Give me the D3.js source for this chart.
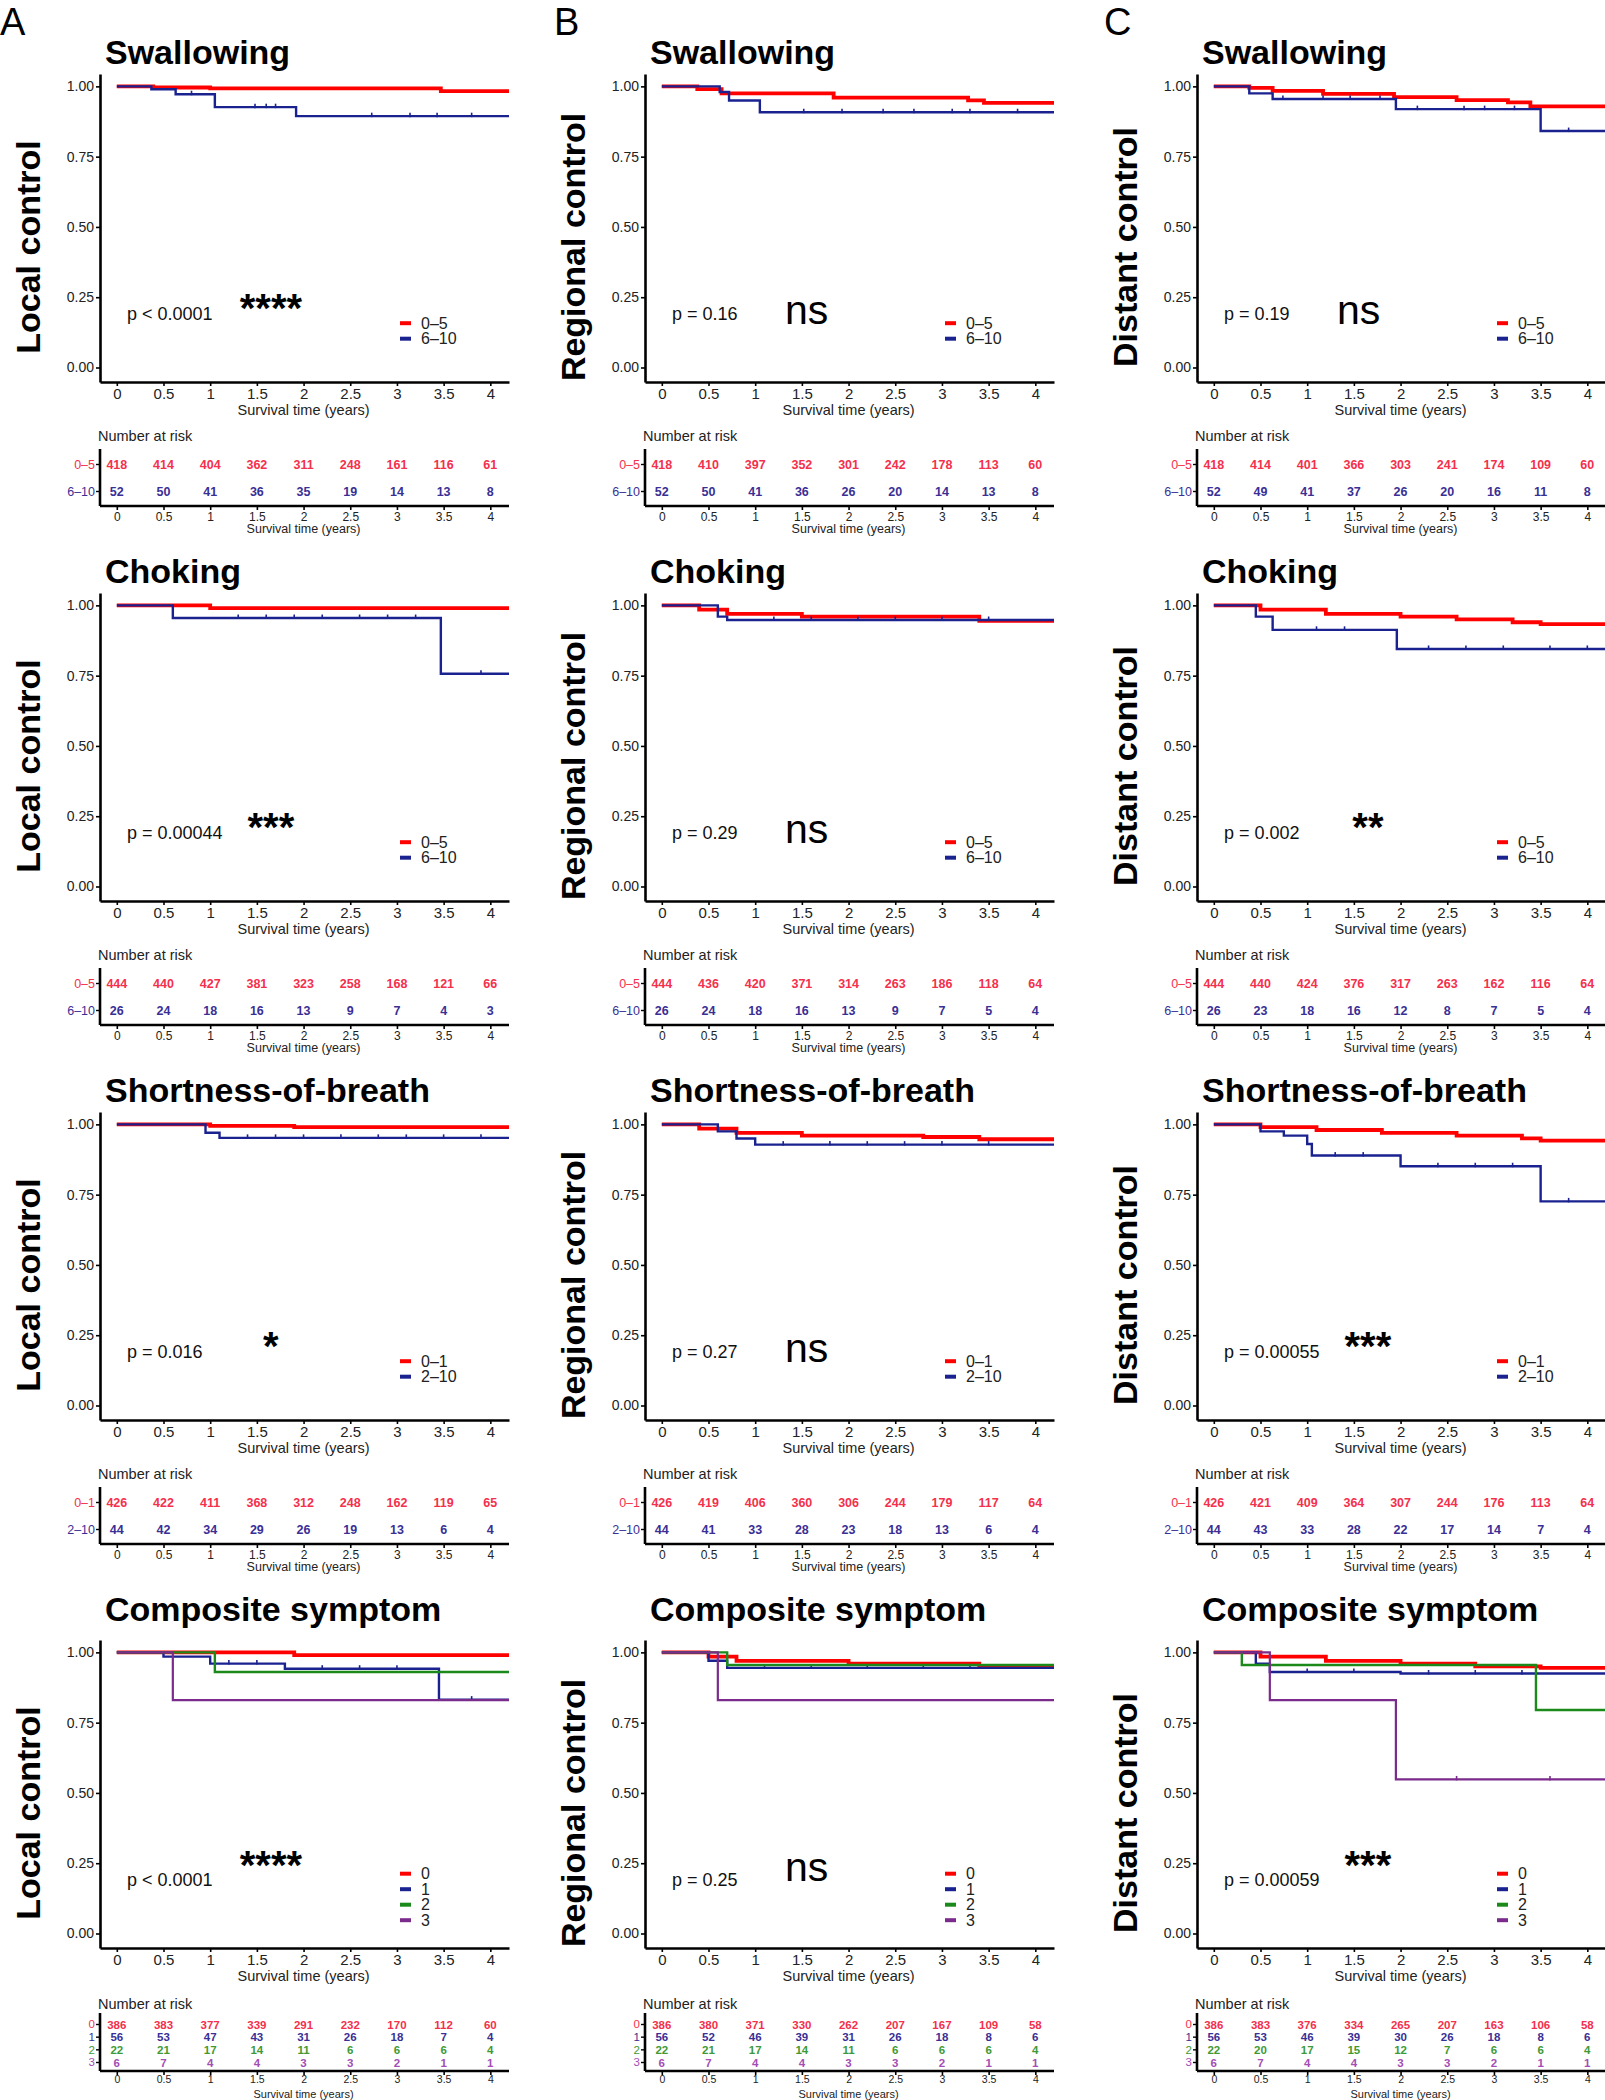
<!DOCTYPE html>
<html>
<head>
<meta charset="utf-8">
<script src="https://cdn.jsdelivr.net/npm/d3@7"></script>
<style>
  body { margin: 0; background: #fff; }
  text { font-family: 'Liberation Sans', Arial, sans-serif; }
</style>
</head>
<body>
<div id="chart"></div>
<script>
// panel labels and titles
const letters = ['A', 'B', 'C'];
const yTitles = ['Local control', 'Regional control', 'Distant control'];
const rowTitles = ['Swallowing', 'Choking', 'Shortness-of-breath', 'Composite symptom'];
const groupNames = [['0–5', '6–10'], ['0–5', '6–10'], ['0–1', '2–10'], ['0', '1', '2', '3']];
const xTicks = [0, 0.5, 1, 1.5, 2, 2.5, 3, 3.5, 4];
const yTicks = [0, 0.25, 0.5, 0.75, 1];

const pLabels = [
    ['p < 0.0001', 'p = 0.16', 'p = 0.19'],
    ['p = 0.00044', 'p = 0.29', 'p = 0.002'],
    ['p = 0.016', 'p = 0.27', 'p = 0.00055'],
    ['p < 0.0001', 'p = 0.25', 'p = 0.00059']
];
const sigLabels = [
    ['****', 'ns', 'ns'],
    ['***', 'ns', '**'],
    ['*', 'ns', '***'],
    ['****', 'ns', '***']
];

// KM steps: [time, survival] per group
const localSwallow = [
    [[0, 1], [0.39, 0.996], [1.0, 0.993], [3.47, 0.983]],
    [[0, 1], [0.37, 0.99], [0.63, 0.972], [1.05, 0.926], [1.92, 0.894]]
];
const regionalSwallow = [
    [[0, 1], [0.38, 0.99], [0.64, 0.975], [1.84, 0.96], [3.28, 0.95], [3.45, 0.941]],
    [[0, 1], [0.62, 0.98], [0.72, 0.95], [1.05, 0.908]]
];
const distantSwallow = [
    [[0, 1], [0.38, 0.995], [0.63, 0.984], [1.17, 0.973], [1.93, 0.962], [2.6, 0.951], [3.15, 0.943], [3.39, 0.929]],
    [[0, 1], [0.38, 0.975], [0.63, 0.955], [1.95, 0.919], [3.5, 0.841]]
];
const localChoke = [
    [[0, 1], [1.0, 0.99]],
    [[0, 1], [0.6, 0.955], [3.47, 0.757]]
];
const regionalChoke = [
    [[0, 1], [0.4, 0.985], [0.7, 0.97], [1.5, 0.96], [3.4, 0.945]],
    [[0, 1], [0.6, 0.96], [0.7, 0.948]]
];
const distantChoke = [
    [[0, 1], [0.5, 0.985], [1.2, 0.97], [2.0, 0.96], [2.6, 0.95], [3.2, 0.94], [3.5, 0.933]],
    [[0, 1], [0.45, 0.96], [0.63, 0.913], [1.96, 0.845]]
];
const localBreath = [
    [[0, 1], [1.0, 0.995], [1.9, 0.99]],
    [[0, 1], [0.95, 0.97], [1.1, 0.952]]
];
const regionalBreath = [
    [[0, 1], [0.4, 0.985], [0.8, 0.97], [1.5, 0.96], [2.8, 0.955], [3.4, 0.947]],
    [[0, 1], [0.6, 0.975], [0.8, 0.95], [1.0, 0.928]]
];
const distantBreath = [
    [[0, 1], [0.5, 0.99], [1.1, 0.98], [1.8, 0.97], [2.6, 0.96], [3.3, 0.95], [3.5, 0.942]],
    [[0, 1], [0.5, 0.975], [0.75, 0.96], [1.0, 0.93], [1.05, 0.889], [2.0, 0.851], [3.5, 0.726]]
];
const localComposite = [
    [[0, 1], [1.9, 0.99]],
    [[0, 1], [0.5, 0.985], [1.0, 0.96], [1.8, 0.942], [3.45, 0.832]],
    [[0, 1], [1.05, 0.93]],
    [[0, 1], [0.6, 0.83]]
];
const regionalComposite = [
    [[0, 1], [0.5, 0.985], [0.8, 0.97], [2.0, 0.96], [3.4, 0.948]],
    [[0, 1], [0.5, 0.97], [0.7, 0.945]],
    [[0, 1], [0.7, 0.955]],
    [[0, 1], [0.6, 0.83]]
];
const distantComposite = [
    [[0, 1], [0.5, 0.985], [1.2, 0.97], [2.0, 0.96], [2.8, 0.95], [3.5, 0.945]],
    [[0, 1], [0.45, 0.96], [0.6, 0.93], [2.0, 0.925]],
    [[0, 1], [0.3, 0.955], [3.45, 0.795]],
    [[0, 1], [0.6, 0.83], [1.95, 0.548]]
];

// censor tick times (years) per group
const censorLocalSwallow = [[], [0.8, 1.48, 1.6, 1.7, 2.73, 3.14, 3.43, 3.8]];
const censorRegionalSwallow = [[], [1.52, 1.93, 2.37, 2.7, 3.11, 3.3, 3.81]];
const censorDistantSwallow = [[], [0.74, 1.17, 1.46, 1.78, 2.18, 2.68, 2.9, 3.22, 3.8]];
const censorLocalChoke = [[], [1.3, 1.6, 1.9, 2.2, 2.6, 2.9, 3.2, 3.9]];
const censorRegionalChoke = [[], [1.2, 1.6, 2.1, 2.5, 3.0, 3.5]];
const censorDistantChoke = [[], [1.1, 1.4, 2.3, 2.7, 3.1, 3.6, 4.0]];
const censorLocalBreath = [[], [1.4, 1.7, 2.0, 2.4, 2.8, 3.1, 3.5, 3.9]];
const censorRegionalBreath = [[], [1.3, 1.8, 2.2, 2.6, 3.0, 3.5]];
const censorDistantBreath = [[], [1.3, 1.6, 2.4, 2.8, 3.2, 3.8]];
const censorLocalComposite = [[], [1.2, 1.5, 2.2, 2.6, 3.0, 3.8], [], []];
const censorRegionalComposite = [[], [1.1, 1.6, 2.2, 2.8, 3.3], [], []];
const censorDistantComposite = [[], [1.0, 1.5, 2.3, 2.8, 3.3], [], [2.6, 3.6]];

// number at risk at each x tick
const riskLocalSwallow = [[418, 414, 404, 362, 311, 248, 161, 116, 61], [52, 50, 41, 36, 35, 19, 14, 13, 8]];
const riskRegionalSwallow = [[418, 410, 397, 352, 301, 242, 178, 113, 60], [52, 50, 41, 36, 26, 20, 14, 13, 8]];
const riskDistantSwallow = [[418, 414, 401, 366, 303, 241, 174, 109, 60], [52, 49, 41, 37, 26, 20, 16, 11, 8]];
const riskLocalChoke = [[444, 440, 427, 381, 323, 258, 168, 121, 66], [26, 24, 18, 16, 13, 9, 7, 4, 3]];
const riskRegionalChoke = [[444, 436, 420, 371, 314, 263, 186, 118, 64], [26, 24, 18, 16, 13, 9, 7, 5, 4]];
const riskDistantChoke = [[444, 440, 424, 376, 317, 263, 162, 116, 64], [26, 23, 18, 16, 12, 8, 7, 5, 4]];
const riskLocalBreath = [[426, 422, 411, 368, 312, 248, 162, 119, 65], [44, 42, 34, 29, 26, 19, 13, 6, 4]];
const riskRegionalBreath = [[426, 419, 406, 360, 306, 244, 179, 117, 64], [44, 41, 33, 28, 23, 18, 13, 6, 4]];
const riskDistantBreath = [[426, 421, 409, 364, 307, 244, 176, 113, 64], [44, 43, 33, 28, 22, 17, 14, 7, 4]];
const riskLocalComposite = [
    [386, 383, 377, 339, 291, 232, 170, 112, 60],
    [56, 53, 47, 43, 31, 26, 18, 7, 4],
    [22, 21, 17, 14, 11, 6, 6, 6, 4],
    [6, 7, 4, 4, 3, 3, 2, 1, 1]
];
const riskRegionalComposite = [
    [386, 380, 371, 330, 262, 207, 167, 109, 58],
    [56, 52, 46, 39, 31, 26, 18, 8, 6],
    [22, 21, 17, 14, 11, 6, 6, 6, 4],
    [6, 7, 4, 4, 3, 3, 2, 1, 1]
];
const riskDistantComposite = [
    [386, 383, 376, 334, 265, 207, 163, 106, 58],
    [56, 53, 46, 39, 30, 26, 18, 8, 6],
    [22, 20, 17, 15, 12, 7, 6, 6, 4],
    [6, 7, 4, 4, 3, 3, 2, 1, 1]
];

const curves = [
    [localSwallow, regionalSwallow, distantSwallow],
    [localChoke, regionalChoke, distantChoke],
    [localBreath, regionalBreath, distantBreath],
    [localComposite, regionalComposite, distantComposite]
];
const censors = [
    [censorLocalSwallow, censorRegionalSwallow, censorDistantSwallow],
    [censorLocalChoke, censorRegionalChoke, censorDistantChoke],
    [censorLocalBreath, censorRegionalBreath, censorDistantBreath],
    [censorLocalComposite, censorRegionalComposite, censorDistantComposite]
];
const risks = [
    [riskLocalSwallow, riskRegionalSwallow, riskDistantSwallow],
    [riskLocalChoke, riskRegionalChoke, riskDistantChoke],
    [riskLocalBreath, riskRegionalBreath, riskDistantBreath],
    [riskLocalComposite, riskRegionalComposite, riskDistantComposite]
];

const lineColors = ['#ff0000', '#1a2290', '#1b8a1b', '#7b2b8c'];
const riskColors = ['#f4304c', '#3a2f95', '#3f9a35', '#a24eb4'];
const lineWidths = [3.8, 2.4, 2.4, 2.2];

const colX = [0, 545, 1097];
const rowY = [0, 519, 1038, 1557];
const rowShift = [0, 0, 0, 9]; // the composite plots sit a bit lower

const svg = d3.select('#chart')
    .append('svg')
    .attr('width', 1605)
    .attr('height', 2100);

function styleAxis(g, w) {
    g.select('.domain').attr('stroke', '#000').attr('stroke-width', w);
    g.selectAll('.tick line').attr('stroke', '#000').attr('stroke-width', 1.6);
    g.selectAll('.tick text').attr('fill', '#222').style('font-family', "'Liberation Sans', Arial, sans-serif");
}

// survival value of a step list at time t
function survAt(steps, t) {
    let v = 1;
    steps.forEach(d => { if (d[0] <= t) v = d[1]; });
    return v;
}

function drawPanel(r, c) {
    const g = svg.append('g').attr('transform', 'translate(' + colX[c] + ',' + rowY[r] + ')');
    const nGroups = groupNames[r].length;
    const s = rowShift[r];
    const x = d3.scaleLinear().domain([-0.18, 4.2]).range([100, 509]);
    const y = d3.scaleLinear().domain([-0.0516, 1.044]).range([382 + s, 74 + s]);

    if (r === 0) {
        g.append('text').attr('x', [0, 9, 7][c]).attr('y', 35)
            .style('font-size', '38px').text(letters[c]);
    }
    g.append('text').attr('x', 105).attr('y', 64)
        .style('font-size', '34px').style('font-weight', 'bold')
        .text(rowTitles[r]);
    g.append('text')
        .attr('transform', 'translate(40,' + (247 + s) + ') rotate(-90)')
        .style('text-anchor', 'middle').style('font-size', '34px').style('font-weight', 'bold')
        .text(yTitles[c]);

    // axes
    const ya = g.append('g').attr('transform', 'translate(100,0)')
        .call(d3.axisLeft(y).tickValues(yTicks).tickFormat(d3.format('.2f')).tickSize(4).tickSizeOuter(0).tickPadding(2));
    ya.selectAll('text').style('font-size', '14px');
    styleAxis(ya, 2.6);
    const xa = g.append('g').attr('transform', 'translate(0,' + y.range()[0] + ')')
        .call(d3.axisBottom(x).tickValues(xTicks).tickFormat(d => d).tickSize(4).tickSizeOuter(0).tickPadding(2));
    xa.selectAll('text').style('font-size', '15px');
    styleAxis(xa, 2.6);
    g.append('text').attr('x', x(2)).attr('y', 415 + s)
        .style('text-anchor', 'middle').style('font-size', '14.5px').attr('fill', '#222')
        .text('Survival time (years)');

    // curves + censor ticks
    const line = d3.line().x(d => x(d[0])).y(d => y(d[1])).curve(d3.curveStepAfter);
    curves[r][c].forEach((steps, i) => {
        const pts = steps.concat([[4.2, steps[steps.length - 1][1]]]);
        g.append('path').datum(pts)
            .attr('fill', 'none')
            .attr('stroke', lineColors[i])
            .attr('stroke-width', lineWidths[i])
            .attr('d', line);
        g.append('g').selectAll('line').data(censors[r][c][i]).enter().append('line')
            .attr('x1', t => x(t)).attr('x2', t => x(t))
            .attr('y1', t => y(survAt(steps, t)) - 3.5)
            .attr('y2', t => y(survAt(steps, t)) + 1)
            .attr('stroke', lineColors[i])
            .attr('stroke-width', 1.6);
    });

    // p value and significance
    g.append('text').attr('x', 127).attr('y', y(0.17))
        .style('font-size', '18px').attr('fill', '#111').text(pLabels[r][c]);
    const sig = sigLabels[r][c];
    if (sig === 'ns') {
        g.append('text').attr('x', x(1.55)).attr('y', 324)
            .style('text-anchor', 'middle').style('font-size', '41px').text(sig);
    } else {
        g.append('text').attr('x', x(1.65)).attr('y', 322)
            .style('text-anchor', 'middle').style('font-size', '40px').style('font-weight', 'bold').text(sig);
    }

    // legend, centred near y = 0.13
    const legMid = y(0.13);
    groupNames[r].forEach((name, i) => {
        const ly = legMid + (i - (nGroups - 1) / 2) * 15.5;
        g.append('line').attr('x1', 400).attr('x2', 411).attr('y1', ly).attr('y2', ly)
            .attr('stroke', lineColors[i]).attr('stroke-width', 4);
        g.append('text').attr('x', 421).attr('y', ly + 5.5)
            .style('font-size', '16px').attr('fill', '#222').text(name);
    });

    // risk table
    const big = nGroups > 2;
    const tTop = big ? 456 : 449;
    const tBot = big ? 514 : 506;
    const rowPos = big ? [467, 505] : [464, 491];
    g.append('text').attr('x', 98).attr('y', big ? 452 : 441)
        .style('font-size', '14.5px').attr('fill', '#222').text('Number at risk');
    const ry = d3.scalePoint().domain(d3.range(nGroups)).range(rowPos);
    const rya = g.append('g').attr('transform', 'translate(100,0)')
        .call(d3.axisLeft(ry).tickFormat(i => groupNames[r][i]).tickSize(4).tickSizeOuter(0).tickPadding(1));
    rya.select('.domain').remove();
    rya.selectAll('text').style('font-size', big ? '11.5px' : '12.5px')
        .attr('fill', i => riskColors[i]);
    rya.selectAll('.tick line').attr('stroke', '#000').attr('stroke-width', 1.4);
    g.append('line').attr('x1', 100).attr('x2', 100).attr('y1', tTop).attr('y2', tBot)
        .attr('stroke', '#000').attr('stroke-width', 2.6);
    const ra = g.append('g').attr('transform', 'translate(0,' + tBot + ')')
        .call(d3.axisBottom(x).tickValues(xTicks).tickFormat(d => d).tickSize(4).tickSizeOuter(0).tickPadding(big ? 1 : 2));
    ra.selectAll('text').style('font-size', big ? '10.5px' : '12px');
    styleAxis(ra, 2.6);
    ra.select('.domain').attr('d', 'M100,0H509');
    g.append('text').attr('x', x(2)).attr('y', big ? 540.5 : 533)
        .style('text-anchor', 'middle').style('font-size', big ? '11px' : '12.5px').attr('fill', '#222')
        .text('Survival time (years)');

    risks[r][c].forEach((row, i) => {
        g.append('g').selectAll('text').data(row).enter().append('text')
            .attr('x', (d, k) => x(xTicks[k]))
            .attr('y', ry(i) + 4.5)
            .style('text-anchor', 'middle')
            .style('font-size', big ? '11.5px' : '12.5px')
            .style('font-weight', 'bold')
            .attr('fill', riskColors[i])
            .text(d => d);
    });
}

for (let r = 0; r < 4; r++) {
    for (let c = 0; c < 3; c++) {
        drawPanel(r, c);
    }
}
</script>
</body>
</html>
